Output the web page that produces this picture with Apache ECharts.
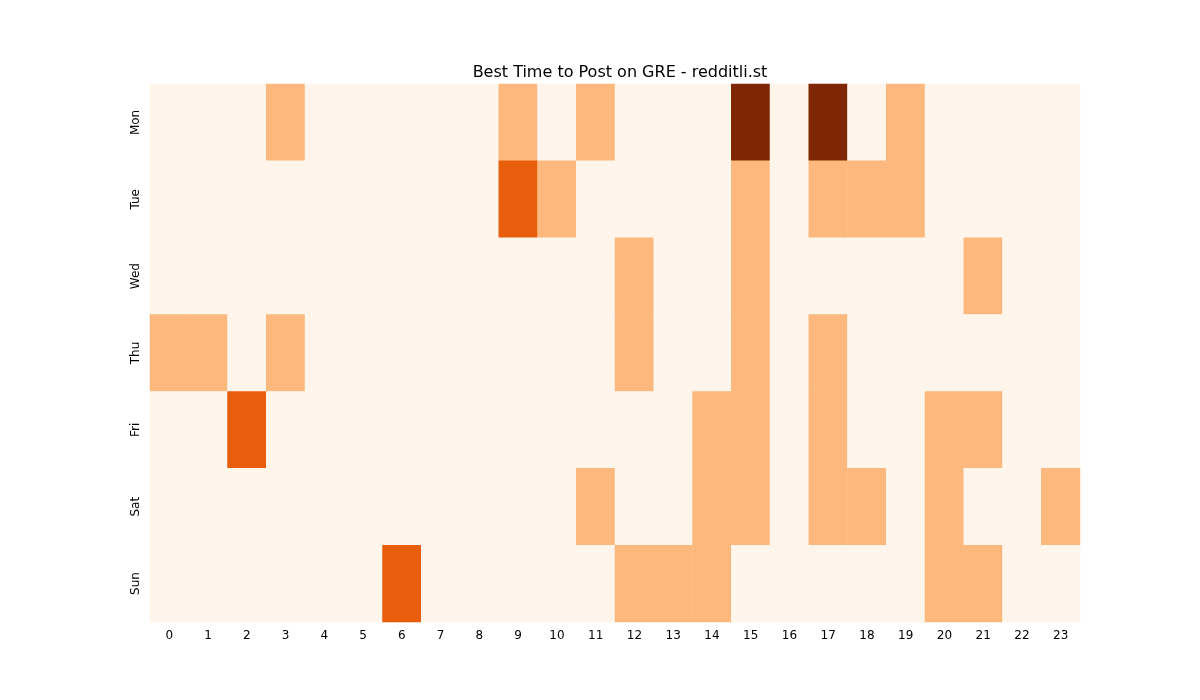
<!DOCTYPE html>
<html><head><meta charset="utf-8">
<script src="https://cdn.jsdelivr.net/npm/echarts@6/dist/echarts.min.js"></script>
<style>html,body{margin:0;padding:0;background:#fff}#c{width:1200px;height:700px}</style>
</head><body><div id="c"></div>
<script>
const hours = ['0','1','2','3','4','5','6','7','8','9','10','11','12','13','14','15','16','17','18','19','20','21','22','23'];
const days = ['Mon','Tue','Wed','Thu','Fri','Sat','Sun'];
const Mon = [0,0,0,1,0,0,0,0,0,1,0,1,0,0,0,3,0,3,0,1,0,0,0,0];
const Tue = [0,0,0,0,0,0,0,0,0,2,1,0,0,0,0,1,0,1,1,1,0,0,0,0];
const Wed = [0,0,0,0,0,0,0,0,0,0,0,0,1,0,0,1,0,0,0,0,0,1,0,0];
const Thu = [1,1,0,1,0,0,0,0,0,0,0,0,1,0,0,1,0,1,0,0,0,0,0,0];
const Fri = [0,0,2,0,0,0,0,0,0,0,0,0,0,0,1,1,0,1,0,0,1,1,0,0];
const Sat = [0,0,0,0,0,0,0,0,0,0,0,1,0,0,1,1,0,1,1,0,1,0,0,1];
const Sun = [0,0,0,0,0,0,2,0,0,0,0,0,1,1,1,0,0,0,0,0,1,1,0,0];
const rows = [Mon,Tue,Wed,Thu,Fri,Sat,Sun];
const data = [];
rows.forEach((r,y)=>r.forEach((v,x)=>data.push([x,y,v])));
const chart = echarts.init(document.getElementById('c'));
chart.setOption({
  animation:false,
  title:{text:'Best Time to Post on GRE - redditli.st',left:615,top:60,textAlign:'center',
    textStyle:{fontFamily:'DejaVu Sans',fontSize:16,fontWeight:'normal',color:'#000'}},
  grid:{left:150,right:120,top:84,bottom:78},
  xAxis:{type:'category',data:hours,splitArea:{show:false},
    axisLine:{show:false},axisTick:{alignWithLabel:true,length:4,lineStyle:{color:'#000'}},
    axisLabel:{fontFamily:'DejaVu Sans',fontSize:12,color:'#000',margin:8}},
  yAxis:{type:'category',data:days,inverse:true,
    axisLine:{show:false},axisTick:{alignWithLabel:true,length:4,lineStyle:{color:'#000'}},
    axisLabel:{fontFamily:'DejaVu Sans',fontSize:12,color:'#000',rotate:90,margin:8}},
  visualMap:{show:false,type:'piecewise',dimension:2,pieces:[
    {value:0,color:'#fff5eb'},{value:1,color:'#fdb97d'},{value:2,color:'#e95e0d'},{value:3,color:'#7f2704'}]},
  series:[{type:'heatmap',data:data,itemStyle:{borderWidth:0}}],
  graphic:[{type:'text',left:550,top:337,style:{text:'redditli.st',fontFamily:'DejaVu Sans',fontSize:27,fill:'rgba(150,150,150,0.5)'}}]
});
</script></body></html>
